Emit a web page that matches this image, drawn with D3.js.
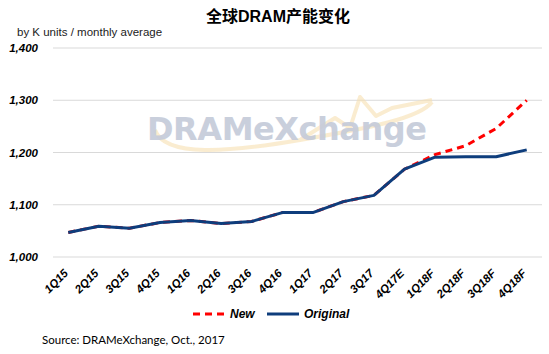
<!DOCTYPE html>
<html>
<head>
<meta charset="utf-8">
<script src="https://cdn.jsdelivr.net/npm/d3@7"></script>
<style>
  body { margin: 0; background: #fff; }
  svg { font-family: Arial, "Liberation Sans", sans-serif; }
</style>
</head>
<body>
<svg width="549" height="354"></svg>
<script>
// chart data
var quarters = ["1Q15", "2Q15", "3Q15", "4Q15", "1Q16", "2Q16", "3Q16", "4Q16",
                "1Q17", "2Q17", "3Q17", "4Q17E", "1Q18F", "2Q18F", "3Q18F", "4Q18F"];
var originalValues = [1047, 1059, 1055, 1066, 1070, 1064, 1068, 1085,
                      1085, 1106, 1118, 1168, 1191, 1192, 1192, 1205];
var newValues = [1047, 1059, 1055, 1066, 1070, 1064, 1068, 1085,
                 1085, 1106, 1118, 1168, 1196, 1213, 1246, 1300];
var yTicks = [1000, 1100, 1200, 1300, 1400];

var titleText = "全球DRAM产能变化",
    unitText = "by K units / monthly average",
    sourceText = "Source: DRAMeXchange, Oct., 2017",
    newColor = "#ff0000",
    origColor = "#0e3d7c";

var svg = d3.select("svg"),
    margin = {top: 48, right: 7, bottom: 97, left: 53},
    width = +svg.attr("width") - margin.left - margin.right,
    height = +svg.attr("height") - margin.top - margin.bottom;

var x = d3.scalePoint().domain(quarters).range([0, width]).padding(0.5),
    y = d3.scaleLinear().domain([1000, 1400]).range([height, 0]);

var g = svg.append("g")
    .attr("transform", "translate(" + margin.left + "," + margin.top + ")");

// gridlines
g.append("g")
  .selectAll("line")
  .data(yTicks)
  .enter().append("line")
    .attr("x1", 0)
    .attr("x2", width)
    .attr("y1", function(d) { return y(d); })
    .attr("y2", function(d) { return y(d); })
    .attr("stroke", "#d9d9d9")
    .attr("stroke-width", 1);

// watermark
var wm = svg.append("g");
wm.append("path")
    .attr("d", "M155,130 C165,158 230,152 300,140 C370,128 420,118 432,102 M300,140 L335,118 L350,128 L360,97 L376,116 L392,108 L432,100")
    .attr("fill", "none")
    .attr("stroke", "#f6dfb0")
    .attr("stroke-width", 4)
    .attr("opacity", 0.6)
    .attr("stroke-linejoin", "round");
wm.append("text")
    .attr("x", 147)
    .attr("y", 140)
    .attr("fill", "#c4cad9")
    .attr("opacity", 0.9)
    .style("font-size", "32px")
    .style("font-weight", "bold")
    .style("font-family", "\"DejaVu Sans\", sans-serif")
    .attr("textLength", 280)
    .text("DRAMeXchange");

// y axis labels
g.append("g")
  .call(d3.axisLeft(y).tickValues(yTicks).tickFormat(d3.format(",")).tickSize(0).tickPadding(15))
  .call(function(s) { s.select(".domain").remove(); })
  .selectAll("text")
    .attr("fill", "#000")
    .style("font-size", "11.5px")
    .style("font-weight", "bold")
    .style("font-style", "italic")
    .style("font-family", "Arial, \"Liberation Sans\", sans-serif");

// x axis labels
g.append("g")
  .attr("transform", "translate(0," + height + ")")
  .call(d3.axisBottom(x).tickSize(0).tickPadding(0))
  .call(function(s) { s.select(".domain").remove(); })
  .selectAll("text")
    .attr("fill", "#000")
    .attr("text-anchor", "end")
    .attr("dy", "0")
    .attr("transform", "translate(0,17) rotate(-45)")
    .style("font-size", "11.5px")
    .style("font-weight", "bold")
    .style("font-style", "italic")
    .style("font-family", "Arial, \"Liberation Sans\", sans-serif");

var line = d3.line()
    .x(function(d, i) { return x(quarters[i]); })
    .y(function(d) { return y(d); });

g.append("path")
    .datum(newValues)
    .attr("fill", "none")
    .attr("stroke", newColor)
    .attr("stroke-width", 3)
    .attr("stroke-dasharray", "7,5")
    .attr("d", line);

g.append("path")
    .datum(originalValues)
    .attr("fill", "none")
    .attr("stroke", origColor)
    .attr("stroke-width", 3)
    .attr("stroke-linejoin", "round")
    .attr("d", line);

// title
svg.append("text")
    .attr("x", 278)
    .attr("y", 22)
    .attr("text-anchor", "middle")
    .attr("fill", "#000")
    .style("font-size", "16px")
    .style("font-weight", "bold")
    .style("font-family", "Arial, \"Noto Sans CJK SC\", sans-serif")
    .text(titleText);

svg.append("text")
    .attr("x", 17)
    .attr("y", 36)
    .attr("fill", "#222")
    .style("font-size", "11.5px")
    .text(unitText);

// legend
var legendData = [{name: "New", color: newColor, dash: "7,5", x: 193},
                  {name: "Original", color: origColor, dash: null, x: 267}];
var legend = svg.append("g").attr("transform", "translate(0,314)");
legend.selectAll("line")
  .data(legendData)
  .enter().append("line")
    .attr("x1", function(d) { return d.x; })
    .attr("x2", function(d) { return d.x + 32; })
    .attr("y1", 0)
    .attr("y2", 0)
    .attr("stroke", function(d) { return d.color; })
    .attr("stroke-width", 3)
    .attr("stroke-dasharray", function(d) { return d.dash; });
legend.selectAll("text")
  .data(legendData)
  .enter().append("text")
    .attr("x", function(d) { return d.x + 37; })
    .attr("y", 4)
    .attr("fill", "#000")
    .style("font-size", "12px")
    .style("font-weight", "bold")
    .style("font-style", "italic")
    .text(function(d) { return d.name; });

// source
svg.append("text")
    .attr("x", 42)
    .attr("y", 344)
    .attr("fill", "#000")
    .style("font-size", "11.5px")
    .style("font-family", "Lato, sans-serif")
    .text(sourceText);
</script>
</body>
</html>
